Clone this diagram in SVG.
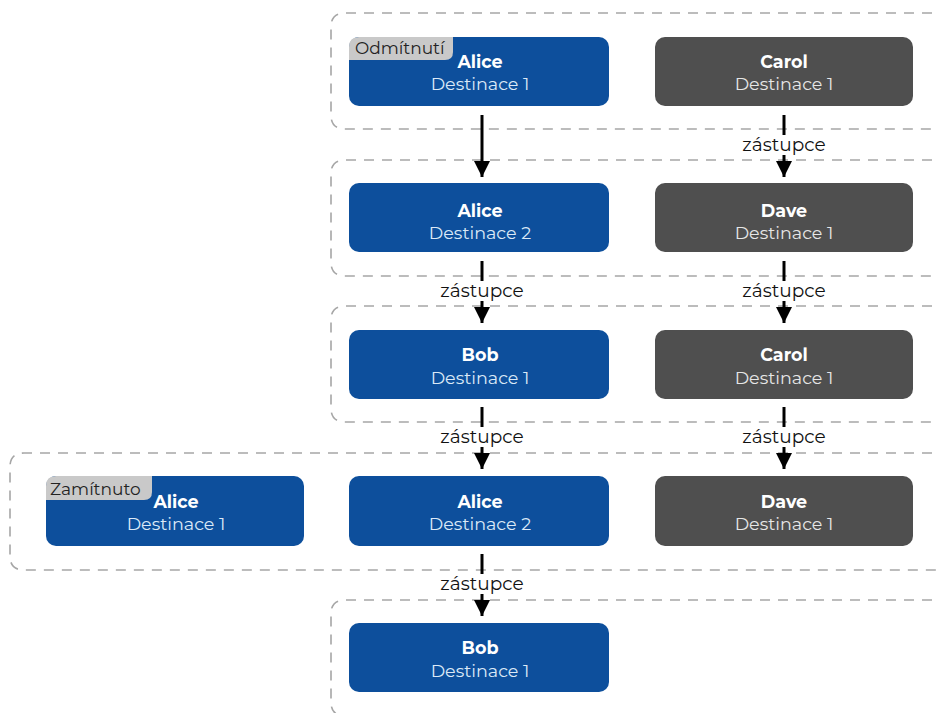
<svg xmlns="http://www.w3.org/2000/svg" width="938" height="713" viewBox="0 0 938 713">
<style>
.grp{fill:none;stroke:#a6a6a6;stroke-width:1.6;stroke-dasharray:10 8}
.blue{fill:#0d4f9c}
.gray{fill:#4f4f4f}
.nm{font-family:"Montserrat","Open Sans","Liberation Sans",sans-serif;font-size:17.5px;font-weight:bold;fill:#ffffff;text-anchor:middle}
.ds{font-family:"Montserrat","Open Sans","Liberation Sans",sans-serif;font-size:17.5px;fill:#dbe9f7;text-anchor:middle}
.dsg{font-family:"Montserrat","Open Sans","Liberation Sans",sans-serif;font-size:17.5px;fill:#e6e6e6;text-anchor:middle}
.tag{fill:#c9c9c9}
.tagt{font-family:"Montserrat","Open Sans","Liberation Sans",sans-serif;font-size:17px;fill:#222222}
.lbl{font-family:"Montserrat","Open Sans","Liberation Sans",sans-serif;font-size:18.5px;fill:#111111;text-anchor:middle}
.ln{stroke:#000;stroke-width:3;fill:none}
</style>
<defs>
<marker id="ah" viewBox="0 0 10 10" refX="10" refY="5" markerWidth="5.5" markerHeight="5.5" markerUnits="strokeWidth" orient="auto">
<path d="M0,0 L10,5 L0,10 z" fill="#000"/>
</marker>
</defs>
<g id="groups">
<path class="grp" d="M950,13 H345 Q331,13 331,27 V115 Q331,129 345,129 H950"/>
<path class="grp" d="M950,160 H345 Q331,160 331,174 V262 Q331,276 345,276 H950"/>
<path class="grp" d="M950,306 H345 Q331,306 331,320 V408 Q331,422 345,422 H950"/>
<path class="grp" d="M950,453 H24 Q10,453 10,467 V556 Q10,570 24,570 H950"/>
<path class="grp" d="M950,600 H345 Q331,600 331,614 V702 Q331,716 345,716 H950"/>
</g>
<g id="connectors">
<line class="ln" x1="482" y1="115" x2="482" y2="177" marker-end="url(#ah)"/>
<line class="ln" x1="784" y1="115" x2="784" y2="135"/>
<text class="lbl" x="784" y="151">zástupce</text>
<line class="ln" x1="784" y1="155" x2="784" y2="177" marker-end="url(#ah)"/>
<line class="ln" x1="482" y1="261" x2="482" y2="281"/>
<text class="lbl" x="482" y="297">zástupce</text>
<line class="ln" x1="482" y1="301" x2="482" y2="323" marker-end="url(#ah)"/>
<line class="ln" x1="784" y1="261" x2="784" y2="281"/>
<text class="lbl" x="784" y="297">zástupce</text>
<line class="ln" x1="784" y1="301" x2="784" y2="323" marker-end="url(#ah)"/>
<line class="ln" x1="482" y1="407" x2="482" y2="427"/>
<text class="lbl" x="482" y="443">zástupce</text>
<line class="ln" x1="482" y1="447" x2="482" y2="469" marker-end="url(#ah)"/>
<line class="ln" x1="784" y1="407" x2="784" y2="427"/>
<text class="lbl" x="784" y="443">zástupce</text>
<line class="ln" x1="784" y1="447" x2="784" y2="469" marker-end="url(#ah)"/>
<line class="ln" x1="482" y1="554" x2="482" y2="574"/>
<text class="lbl" x="482" y="590">zástupce</text>
<line class="ln" x1="482" y1="594" x2="482" y2="616" marker-end="url(#ah)"/>
</g>
<g id="n_alice1">
<rect class="blue" x="349" y="37" width="260" height="69" rx="10"/>
<path class="tag" d="M359,37 H453 V52 Q453,60 445,60 H349 V47 Q349,37 359,37 Z"/>
<text class="tagt" x="355" y="54">Odmítnutí</text>
<text class="nm" x="480" y="68">Alice</text>
<text class="ds" x="480" y="90">Destinace 1</text>
</g>
<g id="n_carol1">
<rect class="gray" x="655" y="37" width="258" height="69" rx="10"/>
<text class="nm" x="784" y="68">Carol</text>
<text class="dsg" x="784" y="90">Destinace 1</text>
</g>
<g id="n_alice2">
<rect class="blue" x="349" y="183" width="260" height="69" rx="10"/>
<text class="nm" x="480" y="217">Alice</text>
<text class="ds" x="480" y="239">Destinace 2</text>
</g>
<g id="n_dave1">
<rect class="gray" x="655" y="183" width="258" height="69" rx="10"/>
<text class="nm" x="784" y="217">Dave</text>
<text class="dsg" x="784" y="239">Destinace 1</text>
</g>
<g id="n_bob1">
<rect class="blue" x="349" y="330" width="260" height="69" rx="10"/>
<text class="nm" x="480" y="361">Bob</text>
<text class="ds" x="480" y="384">Destinace 1</text>
</g>
<g id="n_carol2">
<rect class="gray" x="655" y="330" width="258" height="69" rx="10"/>
<text class="nm" x="784" y="361">Carol</text>
<text class="dsg" x="784" y="384">Destinace 1</text>
</g>
<g id="n_alice_rej">
<rect class="blue" x="46" y="476" width="258" height="70" rx="10"/>
<path class="tag" d="M56,476 H152 V492 Q152,500 144,500 H46 V486 Q46,476 56,476 Z"/>
<text class="tagt" x="50" y="495">Zamítnuto</text>
<text class="nm" x="176" y="508">Alice</text>
<text class="ds" x="176" y="530">Destinace 1</text>
</g>
<g id="n_alice3">
<rect class="blue" x="349" y="476" width="260" height="70" rx="10"/>
<text class="nm" x="480" y="508">Alice</text>
<text class="ds" x="480" y="530">Destinace 2</text>
</g>
<g id="n_dave2">
<rect class="gray" x="655" y="476" width="258" height="70" rx="10"/>
<text class="nm" x="784" y="508">Dave</text>
<text class="dsg" x="784" y="530">Destinace 1</text>
</g>
<g id="n_bob2">
<rect class="blue" x="349" y="623" width="260" height="69" rx="10"/>
<text class="nm" x="480" y="654">Bob</text>
<text class="ds" x="480" y="677">Destinace 1</text>
</g>
</svg>
